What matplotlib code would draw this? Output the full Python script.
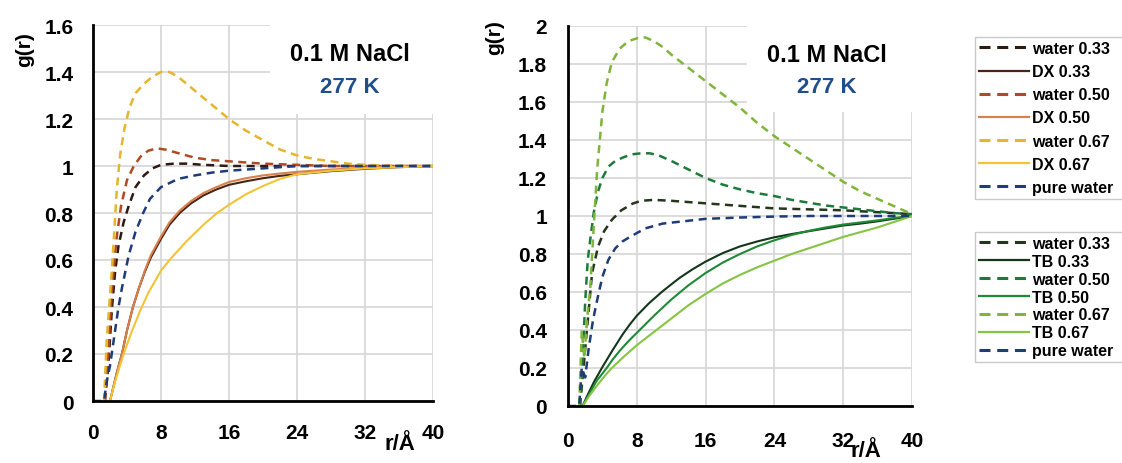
import matplotlib
matplotlib.use("Agg")
import matplotlib.pyplot as plt
from matplotlib.lines import Line2D
from matplotlib.patches import Rectangle
from matplotlib.ticker import FuncFormatter

plt.rcParams['font.family'] = ['Liberation Sans', 'DejaVu Sans']
plt.rcParams['font.weight'] = 'bold'

# --- DX mixtures (left panel) ---
r_dx_w033 = [1.4, 1.8, 2.2, 2.6, 3.0, 3.6, 4.2, 5.0, 6.0, 7.0, 8.0, 9.5, 11, 13, 16, 20, 24, 28, 32, 36, 40]
g_dx_w033 = [0, 0.15, 0.38, 0.55, 0.66, 0.76, 0.83, 0.91, 0.96, 0.99, 1.005, 1.01, 1.01, 1.005, 1.0, 1.0, 1.0,
             1.0, 1.0, 1.0, 1.0]

r_dx_w050 = [1.4, 1.8, 2.1, 2.4, 2.8, 3.3, 4.0, 4.8, 5.6, 6.5, 7.5, 8.5, 10, 11, 12, 14, 16, 20, 24, 28, 32, 36, 40]
g_dx_w050 = [0, 0.2, 0.4, 0.55, 0.7, 0.83, 0.94, 1.0, 1.04, 1.065, 1.075, 1.07, 1.055, 1.045, 1.035, 1.025,
             1.02, 1.01, 1.005, 1.0, 1.0, 1.0, 1.0]

r_dx_w067 = [1.3, 1.6, 1.9, 2.2, 2.5, 2.8, 3.2, 3.7, 4.3, 5.0, 6.0, 7.0, 8.0, 9.0, 10, 11, 12, 14, 16, 18, 20,
             22, 24, 26, 28, 30, 32, 36, 40]
g_dx_w067 = [0, 0.25, 0.4, 0.55, 0.72, 0.9, 1.05, 1.16, 1.25, 1.31, 1.35, 1.38, 1.40, 1.40, 1.38, 1.35, 1.32,
             1.26, 1.2, 1.15, 1.11, 1.07, 1.045, 1.03, 1.02, 1.01, 1.005, 1.0, 1.0]

r_dx = [2.0, 2.4, 2.8, 3.4, 4.0, 4.7, 5.4, 6.1, 6.8, 8.0, 9.0, 10.2, 11.5, 13, 14.5, 16, 18, 20, 22, 24, 28, 32,
        36, 40]
g_dx033 = [0, 0.06, 0.12, 0.2, 0.3, 0.4, 0.48, 0.55, 0.61, 0.69, 0.75, 0.8, 0.84, 0.875, 0.9, 0.92, 0.935,
           0.948, 0.958, 0.965, 0.978, 0.988, 0.995, 1.0]
g_dx050 = [0, 0.06, 0.12, 0.2, 0.3, 0.4, 0.48, 0.555, 0.62, 0.70, 0.76, 0.81, 0.85, 0.885, 0.91, 0.932, 0.948,
           0.96, 0.968, 0.975, 0.985, 0.992, 0.997, 1.0]

r_dx067 = [2.0, 2.5, 3.0, 3.6, 4.5, 5.5, 6.5, 7.3, 8.0, 9.0, 10, 11, 12, 13, 14.6, 16, 18, 20, 22, 24, 28, 32,
           36, 40]
g_dx067 = [0, 0.07, 0.13, 0.2, 0.29, 0.38, 0.46, 0.51, 0.555, 0.6, 0.64, 0.68, 0.715, 0.75, 0.8, 0.835, 0.88,
           0.915, 0.945, 0.965, 0.98, 0.99, 0.995, 1.0]

r_pure_l = [0, 1.3, 1.6, 2.0, 2.6, 3.0, 3.4, 4.2, 5.0, 5.9, 6.7, 8.0, 10, 12, 14, 16, 20, 24, 28, 32, 36, 40]
g_pure_l = [0, 0, 0.08, 0.15, 0.3, 0.4, 0.48, 0.62, 0.72, 0.8, 0.86, 0.91, 0.945, 0.96, 0.972, 0.98, 0.99, 1.0,
            1.0, 1.0, 1.0, 1.0]

# --- TB mixtures (right panel) ---
r_tb_w033 = [1.4, 1.8, 2.2, 2.8, 3.5, 4.2, 5.1, 6.2, 7.5, 8.5, 10, 12, 15, 18, 21, 24, 28, 32, 36, 40]
g_tb_w033 = [0, 0.2, 0.4, 0.7, 0.84, 0.92, 0.98, 1.03, 1.065, 1.08, 1.085, 1.08, 1.07, 1.06, 1.05, 1.04, 1.035,
             1.03, 1.02, 1.01]

r_tb_w050 = [1.4, 1.7, 2.0, 2.3, 2.6, 3.0, 3.5, 4.0, 4.7, 5.5, 6.5, 7.5, 8.5, 9.5, 10.5, 12, 14, 16, 18, 20,
             22, 24, 26, 28, 30, 32, 34, 36, 38, 40]
g_tb_w050 = [0, 0.25, 0.55, 0.77, 0.88, 1.02, 1.13, 1.2, 1.26, 1.29, 1.31, 1.325, 1.33, 1.33, 1.32, 1.29, 1.245,
             1.2, 1.165, 1.14, 1.12, 1.105, 1.085, 1.07, 1.055, 1.045, 1.035, 1.025, 1.015, 1.01]

r_tb_w067 = [1.3, 1.6, 1.9, 2.2, 2.6, 3.0, 3.4, 4.0, 4.5, 5.1, 6.0, 7.0, 8.0, 9.0, 10, 11, 12, 14, 16, 18, 20,
             22, 24, 26, 28, 30, 32, 34, 36, 38, 40]
g_tb_w067 = [0, 0.4, 0.25, 0.45, 0.63, 0.95, 1.25, 1.55, 1.7, 1.81, 1.88, 1.92, 1.935, 1.94, 1.92, 1.89, 1.85,
             1.78, 1.71, 1.64, 1.57, 1.49, 1.42, 1.36, 1.30, 1.24, 1.18, 1.13, 1.09, 1.05, 1.01]

r_tb033 = [1.7, 2.3, 3.0, 4.0, 5.2, 6.4, 7.2, 8.0, 9.4, 10.9, 12, 13, 14.5, 16, 18, 20, 22, 24, 26, 28, 30, 32,
           34, 36, 38, 40]
g_tb033 = [0, 0.06, 0.125, 0.205, 0.295, 0.38, 0.43, 0.475, 0.54, 0.6, 0.64, 0.675, 0.72, 0.76, 0.805, 0.84,
           0.866, 0.888, 0.905, 0.92, 0.935, 0.95, 0.96, 0.972, 0.986, 1.0]

r_tb050 = [1.7, 2.5, 3.3, 4.5, 5.2, 6.0, 7.0, 8.0, 9.0, 10, 12, 14, 16, 18, 20, 22, 24, 26, 28, 30, 32, 34, 36,
           38, 40]
g_tb050 = [0, 0.065, 0.13, 0.2, 0.245, 0.29, 0.34, 0.385, 0.43, 0.475, 0.56, 0.635, 0.70, 0.755, 0.8, 0.84,
           0.872, 0.9, 0.922, 0.94, 0.955, 0.966, 0.977, 0.99, 1.0]

r_tb067 = [1.7, 2.5, 3.5, 4.3, 5.1, 6.5, 8.0, 9.0, 10, 12, 14, 16, 18, 20, 22, 24, 26, 28, 30, 32, 34, 36, 38, 40]
g_tb067 = [0, 0.055, 0.115, 0.16, 0.2, 0.26, 0.32, 0.355, 0.39, 0.46, 0.53, 0.59, 0.645, 0.69, 0.73, 0.765, 0.8,
           0.83, 0.86, 0.89, 0.915, 0.94, 0.97, 1.0]

r_pure_r = [0, 1.3, 1.6, 2.0, 2.4, 2.9, 3.4, 4.0, 4.7, 5.5, 6.3, 7.2, 9.0, 11, 13, 16, 20, 24, 28, 32, 36, 40]
g_pure_r = [0, 0, 0.2, 0.15, 0.3, 0.45, 0.56, 0.68, 0.77, 0.83, 0.865, 0.89, 0.935, 0.96, 0.97, 0.985, 0.992,
            0.997, 1.0, 1.0, 1.0, 1.0]

x_ticks = [0, 8, 16, 24, 32, 40]
y_ticks_l = [0, 0.2, 0.4, 0.6, 0.8, 1.0, 1.2, 1.4, 1.6]
y_ticks_r = [0, 0.2, 0.4, 0.6, 0.8, 1.0, 1.2, 1.4, 1.6, 1.8, 2.0]

NAVY = '#1f3b78'
DASH = (3.2, 2.2)

left_series = [
    ('water 0.33', r_dx_w033, g_dx_w033, '#2e1a12', True),
    ('DX 0.33', r_dx, g_dx033, '#4a2414', False),
    ('water 0.50', r_dx_w050, g_dx_w050, '#b04a22', True),
    ('DX 0.50', r_dx, g_dx050, '#d8804a', False),
    ('water 0.67', r_dx_w067, g_dx_w067, '#e6b52e', True),
    ('DX 0.67', r_dx067, g_dx067, '#f2c436', False),
    ('pure water', r_pure_l, g_pure_l, NAVY, True),
]
right_series = [
    ('water 0.33', r_tb_w033, g_tb_w033, '#24361c', True),
    ('TB 0.33', r_tb033, g_tb033, '#14361a', False),
    ('water 0.50', r_tb_w050, g_tb_w050, '#1e7a3a', True),
    ('TB 0.50', r_tb050, g_tb050, '#1f8a35', False),
    ('water 0.67', r_tb_w067, g_tb_w067, '#7fb53a', True),
    ('TB 0.67', r_tb067, g_tb067, '#86c443', False),
    ('pure water', r_pure_r, g_pure_r, NAVY, True),
]

W, H = 1122, 464
fig = plt.figure(figsize=(W / 100, H / 100), dpi=100)
ax1 = fig.add_axes([93 / W, 1 - 402 / H, 340 / W, 376 / H])
ax2 = fig.add_axes([568 / W, 1 - 407 / H, 344 / W, 380 / H])


def style_axis(ax, yticks, ymax, xpad, ypad, box):
    ax.set_xlim(0, 40)
    ax.set_ylim(0, ymax)
    ax.set_xticks(x_ticks)
    ax.set_yticks(yticks)
    ax.yaxis.set_major_formatter(FuncFormatter(lambda v, p: f'{v:g}'))
    ax.tick_params(length=0, labelsize=15)
    ax.tick_params(axis='x', pad=xpad)
    ax.tick_params(axis='y', pad=ypad)
    for lab in ax.get_xticklabels() + ax.get_yticklabels():
        lab.set_fontweight('bold')
    ax.set_axisbelow(True)
    ax.grid(True, color='#d6d6d6', lw=1.2)
    for s in ('top', 'right'):
        ax.spines[s].set_visible(False)
    for s in ('left', 'bottom'):
        ax.spines[s].set_linewidth(2.0)
        ax.spines[s].set_color('black')
        ax.spines[s].set_zorder(5)
    # white panel behind the annotation text
    ax.add_patch(Rectangle((box[0], box[1]), 40.5 - box[0], ymax + 0.1 - box[1], facecolor='white',
                           edgecolor='none', zorder=1, clip_on=False))


def draw(ax, series):
    for label, r, g, c, dashed in series:
        if dashed:
            ax.plot(r, g, color=c, lw=1.8, dashes=DASH, zorder=2)
        else:
            ax.plot(r, g, color=c, lw=1.5, zorder=2)


style_axis(ax1, y_ticks_l, 1.6, 16, 14, (20.8, 1.22))
style_axis(ax2, y_ticks_r, 2.0, 18, 15, (20.8, 1.55))
draw(ax1, left_series)
draw(ax2, right_series)

ax1.text(30.2, 1.48, '0.1 M NaCl', ha='center', va='center', fontsize=17, fontweight='bold', zorder=3)
ax1.text(30.2, 1.34, '277 K', ha='center', va='center', fontsize=16, fontweight='bold', color='#1f4e8c', zorder=3)
ax2.text(30.1, 1.85, '0.1 M NaCl', ha='center', va='center', fontsize=17, fontweight='bold', zorder=3)
ax2.text(30.1, 1.68, '277 K', ha='center', va='center', fontsize=16, fontweight='bold', color='#1f4e8c', zorder=3)

fig.text(25 / W, 1 - 50 / H, 'g(r)', rotation=90, ha='center', va='center', fontsize=15, fontweight='bold')
fig.text(495 / W, 1 - 38 / H, 'g(r)', rotation=90, ha='center', va='center', fontsize=15, fontweight='bold')
fig.text(400 / W, 1 - 445 / H, 'r/Å', ha='center', va='center', fontsize=16, fontweight='bold')
fig.text(866 / W, 1 - 452 / H, 'r/Å', ha='center', va='center', fontsize=16, fontweight='bold')


def legend_for(series, top, bottom, spacing):
    handles = []
    for label, r, g, c, dashed in series:
        if dashed:
            handles.append(Line2D([], [], color=c, lw=2.2, dashes=(3.6, 2.2), label=label))
        else:
            handles.append(Line2D([], [], color=c, lw=1.6, label=label))
    leg = fig.legend(handles=handles, loc='upper left', mode='expand',
                     bbox_to_anchor=(975 / W, 1 - bottom / H, 170 / W, (bottom - top) / H),
                     frameon=True, fancybox=False, handlelength=3.1, handletextpad=0.25,
                     labelspacing=spacing, borderpad=0.25, borderaxespad=0,
                     prop={'weight': 'bold', 'size': 11.5})
    leg.get_frame().set_edgecolor('#bdbdbd')
    leg.get_frame().set_linewidth(1.0)
    return leg


legend_for(left_series, 38, 197, 0.51)
legend_for(right_series, 233, 361, 0.18)

fig.savefig('out.png', dpi=100)
